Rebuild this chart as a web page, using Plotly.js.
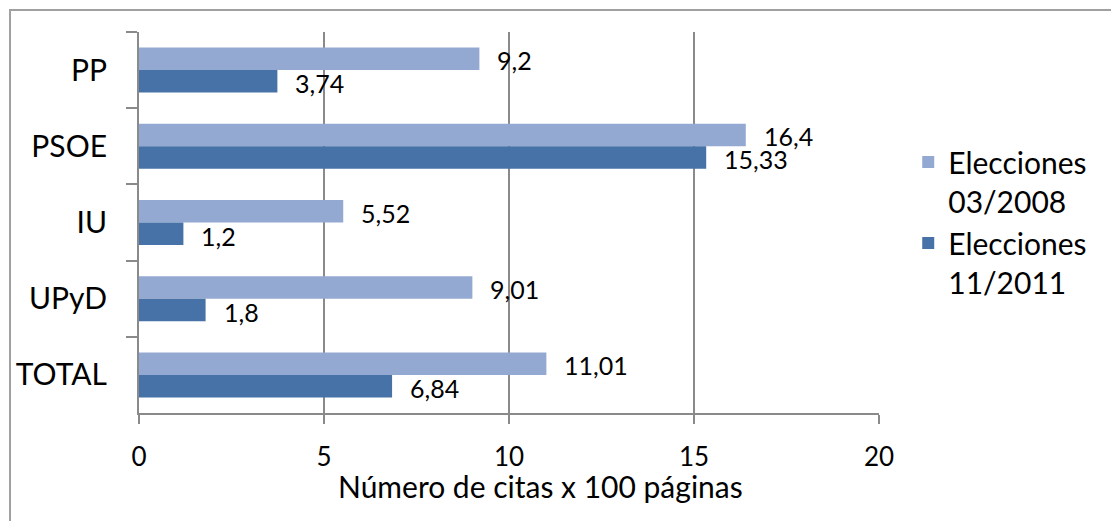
<!DOCTYPE html>
<html>
<head>
<meta charset="utf-8">
<script src="https://cdn.plot.ly/plotly-3.0.1.min.js"></script>
<style>
  html, body { margin: 0; padding: 0; background: #ffffff; }
  #chart { width: 1111px; height: 521px; }
</style>
</head>
<body>
<div id="chart"></div>
<script>
// ---- Data ----
const categories = ['PP', 'PSOE', 'IU', 'UPyD', 'TOTAL'];
const elecciones2008 = [9.2, 16.4, 5.52, 9.01, 11.01];
const elecciones2011 = [3.74, 15.33, 1.2, 1.8, 6.84];
const seriesNames = ['Elecciones<br>03/2008', 'Elecciones<br>11/2011'];
const xTickVals = [0, 5, 10, 15, 20];
const xTickText = ['0', '5', '10', '15', '20'];
const xAxisTitle = 'Número de citas x 100 páginas';

// ---- Styles ----
const FONT = 'Lato, "Open Sans", sans-serif';
const colorLight = '#94A9D1';
const colorDark = '#4672A7';
const gridColor = '#8a8a8a';

function fmt(v) { return String(v).replace('.', ','); }

const traces = [
  {
    type: 'bar', orientation: 'h', name: seriesNames[0],
    y: categories, x: elecciones2008,
    marker: { color: colorLight, line: { width: 0 } },
    hoverinfo: 'skip'
  },
  {
    type: 'bar', orientation: 'h', name: seriesNames[1],
    y: categories, x: elecciones2011,
    marker: { color: colorDark, line: { width: 0 } },
    hoverinfo: 'skip'
  }
];

const annotations = [];
categories.forEach((c, i) => {
  annotations.push({
    x: elecciones2008[i], y: c, xref: 'x', yref: 'y',
    text: fmt(elecciones2008[i]), showarrow: false,
    xanchor: 'left', yanchor: 'middle', xshift: 16, yshift: 10,
    font: { family: FONT, size: 25, color: '#000' }
  });
  annotations.push({
    x: elecciones2011[i], y: c, xref: 'x', yref: 'y',
    text: fmt(elecciones2011[i]), showarrow: false,
    xanchor: 'left', yanchor: 'middle', xshift: 16, yshift: -13,
    font: { family: FONT, size: 25, color: '#000' }
  });
});
annotations.push({
  xref: 'paper', yref: 'paper', x: 0.5419, y: -0.192,
  text: xAxisTitle, showarrow: false, xanchor: 'center', yanchor: 'middle',
  font: { family: FONT, size: 30, color: '#000' }
});

const layout = {
  width: 1111, height: 521,
  margin: { l: 139, r: 232, t: 32, b: 108, pad: 0 },
  paper_bgcolor: '#ffffff', plot_bgcolor: '#ffffff',
  barmode: 'group', bargap: 0.41, bargroupgap: 0,
  separators: ',.',
  showlegend: true,
  legend: {
    x: 1.0395, xanchor: 'left', y: 0.727, yanchor: 'top',
    traceorder: 'normal', valign: 'top',
    font: { family: FONT, size: 30, color: '#000' },
    bgcolor: 'rgba(0,0,0,0)', borderwidth: 0
  },
  xaxis: {
    range: [0, 20], tickvals: xTickVals, ticktext: xTickText,
    showgrid: true, gridcolor: gridColor, gridwidth: 2,
    showline: true, linecolor: gridColor, linewidth: 2,
    ticks: 'outside', ticklen: 9, tickwidth: 2, tickcolor: gridColor,
    ticklabelstandoff: 11,
    tickfont: { family: FONT, size: 26, color: '#000' },
    zeroline: false, fixedrange: true
  },
  yaxis: {
    type: 'category', autorange: 'reversed',
    tickson: 'boundaries',
    showgrid: false,
    showline: true, linecolor: gridColor, linewidth: 2,
    ticks: 'outside', ticklen: 11, tickwidth: 2, tickcolor: gridColor,
    ticklabelstandoff: 24,
    tickfont: { family: FONT, size: 30, color: '#000' },
    zeroline: false, fixedrange: true
  },
  annotations: annotations,
  shapes: [{
    type: 'rect', xref: 'paper', yref: 'paper',
    x0: -0.1743, x1: 1.33, y0: -0.35, y1: 1.0577,
    line: { color: '#a0a0a0', width: 2 }, fillcolor: 'rgba(0,0,0,0)', layer: 'below'
  }]
};

Plotly.newPlot('chart', traces, layout, { displayModeBar: false, staticPlot: true });
</script>
</body>
</html>
